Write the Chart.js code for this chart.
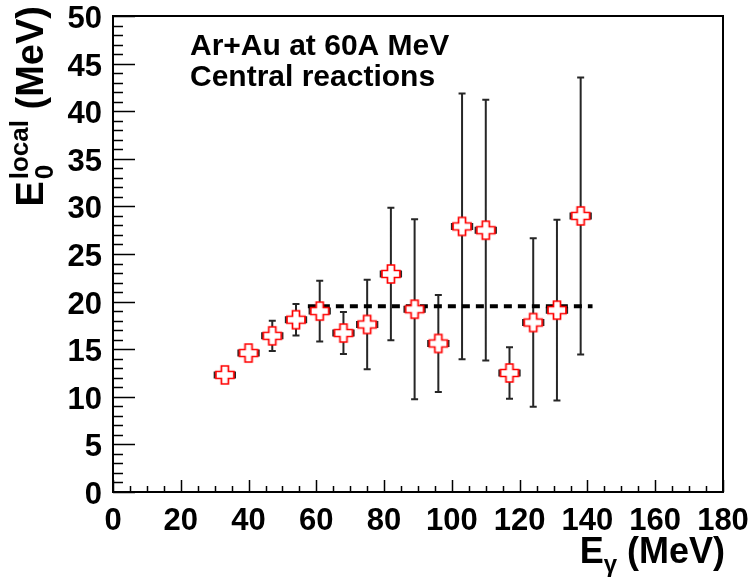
<!DOCTYPE html>
<html>
<head>
<meta charset="utf-8">
<script src="https://cdn.jsdelivr.net/npm/chart.js@4.4.0/dist/chart.umd.min.js"></script>
<style>
  html, body { margin: 0; padding: 0; background: #fff; }
</style>
</head>
<body>
<canvas id="myChart" width="750" height="579"></canvas>
<script>
// data
var xValues = [33, 40, 47, 54, 61, 68, 75, 82, 89, 96, 103, 110, 117, 124, 131, 138];
var yValues = [12.3, 14.6, 16.4, 18.1, 19.0, 16.7, 17.6, 22.9, 19.2, 15.6, 27.9, 27.5, 12.5, 17.8, 19.1, 29.0];
var yErr = [0.5, 0.6, 1.6, 1.65, 3.2, 2.2, 4.7, 6.95, 9.45, 5.1, 13.95, 13.7, 2.7, 8.85, 9.5, 14.55];
var xErr = [3, 3, 3, 3, 3, 3, 3, 3, 3, 3, 3, 3, 3, 3, 3, 3];
var fitX = [57.5, 141.5];
var fitY = [19.5, 19.5];
var xTicks = [0, 20, 40, 60, 80, 100, 120, 140, 160, 180];
var yTicks = [0, 5, 10, 15, 20, 25, 30, 35, 40, 45, 50];

var FONT = "'Liberation Sans', Arial, Helvetica, sans-serif";
var NARROW = "'Liberation Sans Narrow', 'Arial Narrow', 'Liberation Sans', sans-serif";

// open cross marker (ROOT style 28)
function makeCross() {
  var c = document.createElement("canvas");
  c.width = 22; c.height = 22;
  var g = c.getContext("2d");
  var m = 11, a = 9, w = 3.5;
  g.beginPath();
  g.moveTo(m - w, m - a); g.lineTo(m + w, m - a); g.lineTo(m + w, m - w);
  g.lineTo(m + a, m - w); g.lineTo(m + a, m + w); g.lineTo(m + w, m + w);
  g.lineTo(m + w, m + a); g.lineTo(m - w, m + a); g.lineTo(m - w, m + w);
  g.lineTo(m - a, m + w); g.lineTo(m - a, m - w); g.lineTo(m - w, m - w);
  g.closePath();
  g.fillStyle = "#fff"; g.fill();
  g.strokeStyle = "#ff0000"; g.lineWidth = 1.7; g.stroke();
  return c;
}

var points = xValues.map(function (x, i) { return { x: x, y: yValues[i] }; });
var fitLine = fitX.map(function (x, i) { return { x: x, y: fitY[i] }; });

const rootStyle = {
  id: "rootStyle",
  beforeDatasetsDraw(chart) {
    const ctx = chart.ctx, xs = chart.scales.x, ys = chart.scales.y;
    ctx.save();
    ctx.strokeStyle = "#262626";
    ctx.lineWidth = 2;
    ctx.beginPath();
    xValues.forEach(function (xv, i) {
      var px = xs.getPixelForValue(xv);
      var py = ys.getPixelForValue(yValues[i]);
      var top = ys.getPixelForValue(yValues[i] + yErr[i]);
      var bot = ys.getPixelForValue(yValues[i] - yErr[i]);
      var l = xs.getPixelForValue(xv - xErr[i]);
      var r = xs.getPixelForValue(xv + xErr[i]);
      ctx.moveTo(px, top); ctx.lineTo(px, bot);
      ctx.moveTo(px - 3.5, top); ctx.lineTo(px + 3.5, top);
      ctx.moveTo(px - 3.5, bot); ctx.lineTo(px + 3.5, bot);
      ctx.moveTo(l, py); ctx.lineTo(r, py);
      ctx.moveTo(l, py - 3.5); ctx.lineTo(l, py + 3.5);
      ctx.moveTo(r, py - 3.5); ctx.lineTo(r, py + 3.5);
    });
    ctx.stroke();
    ctx.restore();
  },
  afterDraw(chart) {
    const ctx = chart.ctx, xs = chart.scales.x, ys = chart.scales.y, a = chart.chartArea;
    ctx.save();
    // frame
    ctx.strokeStyle = "#000";
    ctx.lineWidth = 2;
    ctx.strokeRect(a.left, a.top, a.right - a.left, a.bottom - a.top);
    // ticks inside the frame
    ctx.lineWidth = 1.5;
    ctx.beginPath();
    for (var v = 0; v <= 50; v += 1) {
      var y = Math.round(ys.getPixelForValue(v)) + 0.5;
      var len = (v % 5 === 0) ? 22 : 10;
      ctx.moveTo(a.left, y); ctx.lineTo(a.left + len, y);
    }
    for (var u = 0; u <= 180; u += 5) {
      var x = Math.round(xs.getPixelForValue(u)) + 0.5;
      var l2 = (u % 20 === 0) ? 12 : 6;
      ctx.moveTo(x, a.bottom); ctx.lineTo(x, a.bottom - l2);
    }
    ctx.stroke();

    ctx.fillStyle = "#000";
    ctx.textBaseline = "alphabetic";
    // tick labels from the scales' ticks
    ctx.font = "bold 31px " + NARROW;
    ctx.textAlign = "right";
    ys.ticks.forEach(function (t) {
      ctx.fillText(String(t.value), a.left - 11, ys.getPixelForValue(t.value) + 12);
    });
    ctx.textAlign = "center";
    xs.ticks.forEach(function (t) {
      ctx.fillText(String(t.value), xs.getPixelForValue(t.value), a.bottom + 38);
    });
    ctx.textAlign = "left";

    // text box
    ctx.font = "bold 30px " + FONT;
    ctx.fillText("Ar+Au at 60A MeV", 190, 55);
    ctx.fillText("Central reactions", 190, 86);

    // x title  E_gamma (MeV)
    var big = "bold 36px " + FONT, small = "bold 24px " + FONT;
    ctx.font = big;
    var wE = ctx.measureText("E").width;
    var wM = ctx.measureText(" (MeV)").width;
    ctx.font = small;
    var wg = ctx.measureText("\u03b3").width;
    var x0 = 725 - (wE + wg + wM);
    ctx.font = big;
    ctx.fillText("E", x0, 563);
    ctx.font = small;
    ctx.fillText("\u03b3", x0 + wE, 572);
    ctx.font = big;
    ctx.fillText(" (MeV)", x0 + wE + wg, 563);

    // y title  E_0^local (MeV), rotated
    var bigY = "bold 38px " + FONT, smallY = "bold 26px " + FONT;
    ctx.font = bigY;
    var yE = ctx.measureText("E").width;
    var yM = ctx.measureText(" (MeV)").width;
    ctx.font = smallY;
    var ws = Math.max(ctx.measureText("0").width, ctx.measureText("local").width);
    var total = yE + 2 + ws + yM;
    ctx.translate(43, 6 + total);
    ctx.rotate(-Math.PI / 2);
    ctx.font = bigY;
    ctx.fillText("E", 0, 0);
    ctx.font = smallY;
    ctx.fillText("0", yE + 2, 10);
    ctx.fillText("local", yE + 2, -15);
    ctx.font = bigY;
    ctx.fillText(" (MeV)", yE + 2 + ws, 0);
    ctx.restore();
  }
};

new Chart("myChart", {
  type: "scatter",
  data: {
    datasets: [{
      data: points,
      pointStyle: makeCross(),
      pointRadius: 10,
      order: 0
    }, {
      type: "line",
      data: fitLine,
      borderColor: "#000",
      borderWidth: 4,
      borderDash: [8, 6],
      pointRadius: 0,
      fill: false,
      order: 1
    }]
  },
  options: {
    responsive: false,
    animation: false,
    devicePixelRatio: 1,
    layout: { autoPadding: false, padding: { left: 0, right: 27, top: 16, bottom: 0 } },
    plugins: { legend: { display: false }, tooltip: { enabled: false } },
    scales: {
      x: {
        type: "linear", min: 0, max: 180,
        grid: { display: false, drawTicks: false },
        border: { display: false },
        afterBuildTicks: function (s) { s.ticks = xTicks.map(function (v) { return { value: v }; }); },
        afterFit: function (s) { s.height = 87; },
        ticks: { display: false }
      },
      y: {
        type: "linear", min: 0, max: 50,
        grid: { display: false, drawTicks: false },
        border: { display: false },
        afterBuildTicks: function (s) { s.ticks = yTicks.map(function (v) { return { value: v }; }); },
        afterFit: function (s) { s.width = 113; },
        ticks: { display: false }
      }
    }
  },
  plugins: [rootStyle]
});
</script>
</body>
</html>
